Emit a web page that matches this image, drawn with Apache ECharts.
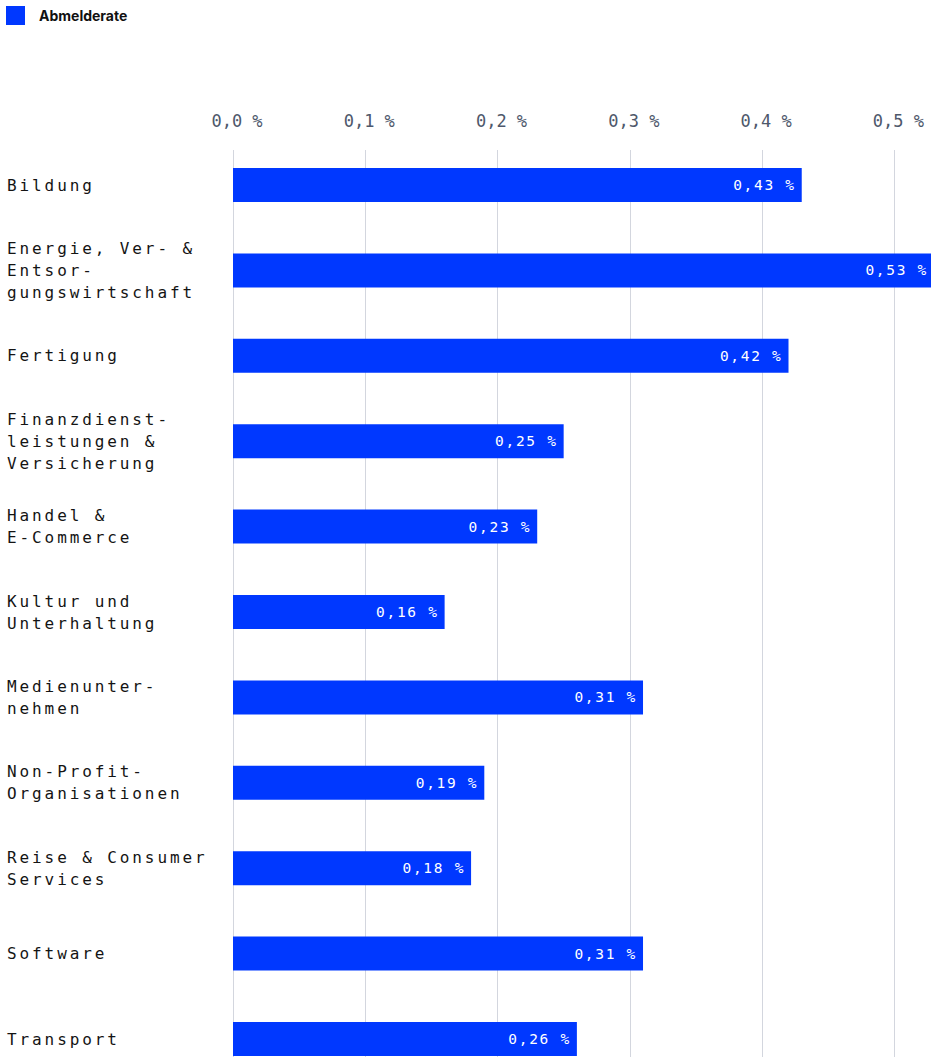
<!DOCTYPE html>
<html>
<head>
<meta charset="utf-8">
<script src="https://cdn.jsdelivr.net/npm/echarts@6/dist/echarts.min.js"></script>
<style>
  html, body { margin: 0; padding: 0; background: #ffffff; overflow: hidden; }
  #chart { width: 931px; height: 1057px; }
  /* wide tracking for the monospaced labels */
  #chart text[style*="16px"] { letter-spacing: 2.9px; }
  #chart text[style*="14.5px"] { letter-spacing: 1.7px; }
</style>
</head>
<body>
<div id="chart"></div>
<script>
// Branchen (top to bottom) and their unsubscribe rate in percent
const categories = [
  'Bildung',
  'Energie, Ver- &\nEntsor-\ngungswirtschaft',
  'Fertigung',
  'Finanzdienst-\nleistungen &\nVersicherung',
  'Handel &\nE-Commerce',
  'Kultur und\nUnterhaltung',
  'Medienunter-\nnehmen',
  'Non-Profit-\nOrganisationen',
  'Reise & Consumer\nServices',
  'Software',
  'Transport'
];
const abmelderate = [0.43, 0.53, 0.42, 0.25, 0.23, 0.16, 0.31, 0.19, 0.18, 0.31, 0.26];
const xTicks = [0, 0.1, 0.2, 0.3, 0.4, 0.5];

const MONO = '"DejaVu Sans Mono", monospace';
const BLUE = '#0038ff';
const fmtPct = (v, digits) => v.toFixed(digits).replace('.', ',') + ' %';

const axisMax = 0.53;
const tickStep = xTicks[1] - xTicks[0];

// plot area runs slightly past the right and bottom edges of the canvas
const PLOT_LEFT = 233, PLOT_WIDTH = 701, PLOT_HEIGHT = 939.4;

const chart = echarts.init(document.getElementById('chart'), null, { renderer: 'svg' });
chart.setOption({
  animation: false,
  backgroundColor: '#ffffff',
  legend: {
    left: 1,
    top: 1,
    icon: 'rect',
    itemWidth: 19,
    itemHeight: 19,
    data: ['Abmelderate'],
    textStyle: {
      fontFamily: 'Inter, "Liberation Sans", sans-serif',
      fontWeight: 'bold',
      fontSize: 14,
      color: '#111111',
      padding: [0, 0, 0, 9]
    }
  },
  grid: [
    { left: PLOT_LEFT, width: PLOT_WIDTH, top: 142.3, height: PLOT_HEIGHT, outerBoundsMode: 'none' },
    { left: PLOT_LEFT, width: PLOT_WIDTH, top: 150, height: PLOT_HEIGHT - 7.7, outerBoundsMode: 'none' }
  ],
  xAxis: [
    {
      gridIndex: 0,
      type: 'value',
      position: 'top',
      min: 0,
      max: axisMax,
      interval: tickStep,
      axisLine: { show: false },
      axisTick: { show: false },
      splitLine: { show: false },
      axisLabel: {
        showMaxLabel: false,
        margin: 13,
        padding: [0, 0, 0, 8],
        fontFamily: MONO,
        fontSize: 17,
        color: '#4e586b',
        formatter: v => fmtPct(v, 1)
      }
    },
    {
      gridIndex: 1,
      type: 'value',
      position: 'top',
      min: 0,
      max: axisMax,
      interval: tickStep,
      axisLine: { show: false },
      axisTick: { show: false },
      axisLabel: { show: false },
      splitLine: { show: true, lineStyle: { color: '#d3d6de', width: 1 } }
    }
  ],
  yAxis: [
    {
      gridIndex: 0,
      type: 'category',
      inverse: true,
      data: categories,
      axisLine: { show: false },
      axisTick: { show: false },
      axisLabel: {
        align: 'left',
        margin: 226,
        fontFamily: MONO,
        fontSize: 16,
        lineHeight: 22,
        color: '#141414'
      }
    },
    {
      gridIndex: 1,
      type: 'category',
      inverse: true,
      data: categories,
      show: false
    }
  ],
  series: [
    {
      name: 'Abmelderate',
      type: 'bar',
      xAxisIndex: 0,
      yAxisIndex: 0,
      data: abmelderate,
      barWidth: 34,
      itemStyle: { color: BLUE },
      label: {
        show: true,
        position: 'insideRight',
        distance: 6,
        fontFamily: MONO,
        fontSize: 14.5,
        color: '#ffffff',
        formatter: p => fmtPct(p.value, 2)
      }
    }
  ]
});
</script>
</body>
</html>
